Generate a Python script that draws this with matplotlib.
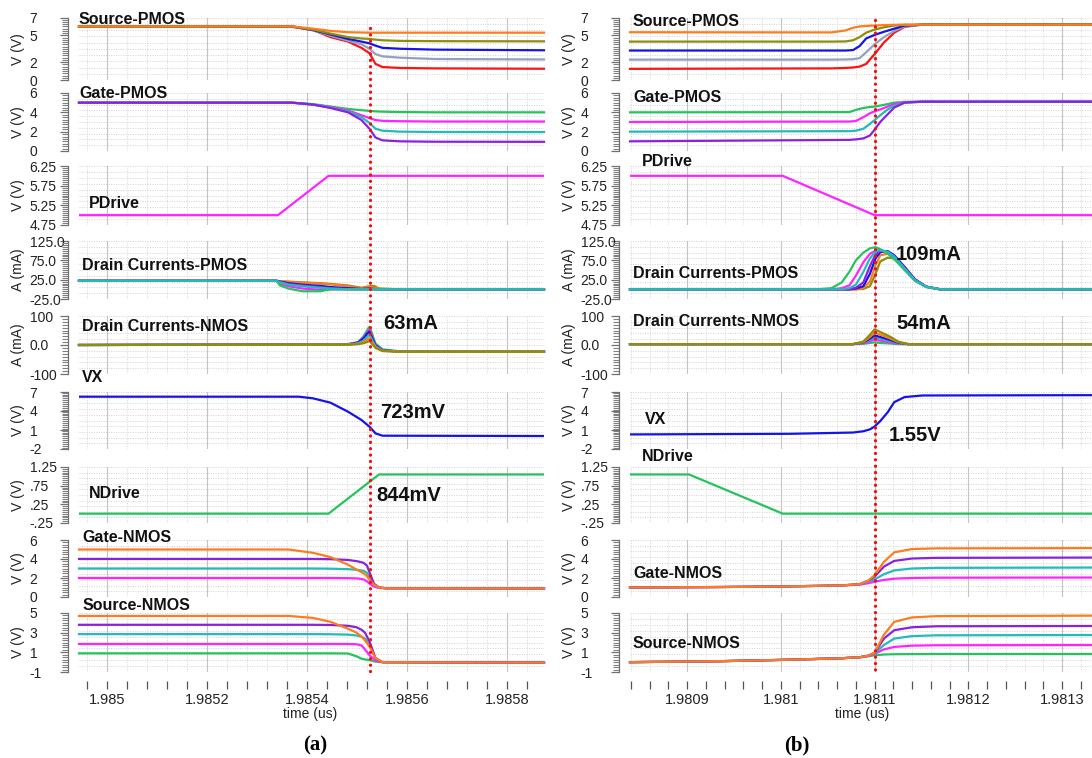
import matplotlib
matplotlib.use('Agg')
import matplotlib.pyplot as plt
import numpy as np
from matplotlib.lines import Line2D
from matplotlib.ticker import FixedLocator, MultipleLocator
from matplotlib.transforms import blended_transform_factory

plt.rcParams['font.family'] = ['Liberation Sans', 'DejaVu Sans']

# ---------------- data: left column (a) ----------------
tL_xlim = (1.984944, 1.985874)
tL_ticks = [1.985, 1.9852, 1.9854, 1.9856, 1.9858]
tL_labels = ['1.985', '1.9852', '1.9854', '1.9856', '1.9858']
tL_marker = 1.985525

tL_a = [1.984944, 1.985370, 1.985412, 1.985447, 1.985482, 1.985509, 1.985525,
        1.985537, 1.985551, 1.985586, 1.985656, 1.985874]
L_src_p = {
    'red':    [6.0, 5.95, 5.6, 4.8, 4.3, 3.6, 3.0, 1.8, 1.45, 1.35, 1.3, 1.26],
    'gray':   [6.0, 6.0, 5.55, 4.95, 4.4, 4.0, 3.5, 2.9, 2.65, 2.5, 2.35, 2.3],
    'blue':   [6.0, 6.0, 5.6, 5.1, 4.6, 4.3, 4.1, 3.85, 3.6, 3.5, 3.4, 3.33],
    'olive':  [6.0, 6.0, 5.65, 5.2, 4.8, 4.65, 4.6, 4.52, 4.45, 4.38, 4.35, 4.33],
    'orange': [6.0, 6.0, 5.75, 5.5, 5.35, 5.32, 5.3, 5.3, 5.3, 5.3, 5.3, 5.3],
}
L_gate_p = {
    'green':   [5.0, 5.0, 4.85, 4.6, 4.35, 4.22, 4.15, 4.1, 4.07, 4.03, 4.0, 4.0],
    'magenta': [5.0, 5.0, 4.8, 4.55, 4.2, 3.7, 3.4, 3.2, 3.12, 3.08, 3.05, 3.05],
    'cyan':    [5.0, 5.0, 4.8, 4.5, 4.1, 3.5, 2.9, 2.3, 2.1, 2.0, 1.97, 1.96],
    'purple':  [5.0, 5.0, 4.8, 4.45, 4.0, 3.2, 2.3, 1.4, 1.1, 1.0, 0.96, 0.95],
}
tL_pdrive = [1.984944, 1.985342, 1.985443, 1.985874]
L_pdrive = [5.0, 5.0, 6.0, 6.0]

tL_ip = [1.984944, 1.985339, 1.985346, 1.985363, 1.985391, 1.985426, 1.985447,
         1.985482, 1.985509, 1.985525, 1.985534, 1.985544, 1.985586, 1.985874]
L_id_p = {
    'olive':   [22, 22, 21, 20, 18, 16, 14, 10, 4, 8, 9, 2, 0, 0],
    'orange':  [22, 22, 21, 19, 17, 15, 13, 8, 3, 6, 5, 1, 0, 0],
    'blue':    [22, 22, 20, 16, 12, 9, 6, 3, 1, 2, 1, 0, 0, 0],
    'purple':  [22, 22, 19, 14, 10, 6, 3, 1, 0, 1, 0, 0, 0, 0],
    'magenta': [22, 22, 14, 8, 2, -1, 0, 0, 0, 0, 0, 0, 0, 0],
    'green':   [22, 22, 10, 2, -5, -5, 0, 0, 0, 0, 0, 0, 0, 0],
    'cyan':    [22, 22, 18, 12, 8, 4, 2, 0, 0, 0, 0, 0, 0, 0],
}
tL_in = [1.984944, 1.985482, 1.985502, 1.985513, 1.985520, 1.985525, 1.985530,
         1.985537, 1.985551, 1.985586, 1.985874]
L_id_n = {
    'green':   [0, 3, 10, 30, 50, 63, 40, 5, -15, -22, -23],
    'magenta': [0, 3, 9, 25, 42, 52, 30, 0, -18, -23, -23],
    'blue':    [0, 2, 8, 22, 38, 46, 25, -2, -18, -23, -23],
    'cyan':    [0, 2, 6, 15, 28, 36, 18, -5, -19, -23, -23],
    'orange':  [0, 1, 4, 10, 18, 24, 10, -8, -20, -23, -23],
    'olive':   [0, 1, 3, 6, 10, 14, 4, -10, -21, -23, -23],
}
tL_vx = [1.984944, 1.985384, 1.985412, 1.985447, 1.985482, 1.985509, 1.985525,
         1.985537, 1.985551, 1.985874]
L_vx = [6.26, 6.26, 6.0, 5.31, 3.89, 2.58, 1.52, 0.47, 0.10, 0.05]
tL_ndrive = [1.984944, 1.985443, 1.985544, 1.985874]
L_ndrive = [0.0, 0.0, 1.05, 1.05]

tL_gn = [1.984944, 1.985363, 1.985412, 1.985447, 1.985482, 1.985502, 1.985513,
         1.985520, 1.985525, 1.985534, 1.985544, 1.985558, 1.985874]
L_gate_n = {
    'magenta': [2.0, 2.0, 2.0, 2.0, 1.98, 1.95, 1.85, 1.65, 1.4, 1.1, 0.95, 0.92, 0.9],
    'cyan':    [3.0, 3.0, 3.0, 2.98, 2.93, 2.85, 2.75, 2.55, 2.1, 1.3, 1.0, 0.92, 0.9],
    'purple':  [4.0, 4.0, 4.0, 3.98, 3.9, 3.75, 3.6, 3.3, 2.6, 1.4, 1.0, 0.92, 0.9],
    'orange':  [5.0, 5.0, 4.65, 4.2, 3.4, 2.8, 2.5, 2.2, 1.8, 1.3, 1.0, 0.92, 0.9],
}
tL_sn = [1.984944, 1.985363, 1.985412, 1.985447, 1.985482, 1.985499, 1.985509,
         1.985516, 1.985525, 1.985537, 1.985551, 1.985874]
L_src_n = {
    'green':   [0.9, 0.9, 0.9, 0.9, 0.88, 0.6, 0.35, 0.28, 0.2, 0.05, 0.0, -0.05],
    'magenta': [1.85, 1.85, 1.85, 1.85, 1.85, 1.82, 1.7, 1.3, 0.7, 0.15, 0.0, -0.05],
    'cyan':    [2.85, 2.85, 2.85, 2.84, 2.8, 2.72, 2.6, 2.4, 1.8, 0.35, 0.0, -0.05],
    'purple':  [3.8, 3.8, 3.8, 3.78, 3.7, 3.55, 3.3, 3.0, 2.1, 0.4, 0.0, -0.05],
    'orange':  [4.7, 4.7, 4.5, 4.1, 3.4, 3.0, 2.6, 2.2, 1.6, 0.4, 0.0, -0.05],
}

# ---------------- data: right column (b) ----------------
tR_xlim = (1.980839, 1.981332)
tR_ticks = [1.9809, 1.981, 1.9811, 1.9812, 1.9813]
tR_labels = ['1.9809', '1.981', '1.9811', '1.9812', '1.9813']
tR_marker = 1.9811

tR_a = [1.980839, 1.981054, 1.981069, 1.981077, 1.981084, 1.981091, 1.981100,
        1.981110, 1.981121, 1.981132, 1.981151, 1.981332]
R_src_p = {
    'red':    [1.25, 1.3, 1.35, 1.4, 1.5, 1.8, 2.9, 4.2, 5.3, 5.95, 6.2, 6.2],
    'gray':   [2.28, 2.28, 2.3, 2.33, 2.45, 3.1, 4.0, 4.8, 5.5, 6.0, 6.2, 6.2],
    'blue':   [3.3, 3.3, 3.3, 3.35, 3.8, 4.65, 5.05, 5.4, 5.75, 6.1, 6.2, 6.2],
    'olive':  [4.3, 4.3, 4.32, 4.45, 4.8, 5.3, 5.65, 5.9, 6.1, 6.18, 6.2, 6.2],
    'orange': [5.35, 5.33, 5.55, 5.85, 6.0, 6.05, 6.1, 6.15, 6.18, 6.2, 6.2, 6.2],
}
tR_b = [1.980839, 1.981073, 1.981080, 1.981088, 1.981095, 1.981100, 1.981106,
        1.981114, 1.981121, 1.981132, 1.981151, 1.981332]
R_gate_p = {
    'green':   [4.0, 4.02, 4.25, 4.45, 4.55, 4.6, 4.7, 4.85, 5.0, 5.08, 5.1, 5.1],
    'magenta': [3.0, 3.05, 3.1, 3.5, 3.9, 4.1, 4.3, 4.6, 4.85, 5.05, 5.1, 5.1],
    'cyan':    [2.0, 2.05, 2.1, 2.3, 2.8, 3.2, 3.7, 4.3, 4.7, 5.0, 5.1, 5.1],
    'purple':  [1.0, 1.15, 1.2, 1.3, 1.6, 2.2, 3.0, 3.8, 4.5, 5.0, 5.1, 5.1],
}
tR_pdrive = [1.980839, 1.981002, 1.981100, 1.981332]
R_pdrive = [6.0, 6.0, 5.0, 5.0]

tR_ip = [1.980839, 1.981039, 1.981054, 1.981065, 1.981073, 1.981080, 1.981088,
         1.981095, 1.981101, 1.981106, 1.981114, 1.981121, 1.981132, 1.981143,
         1.981155, 1.981170, 1.981332]
R_id_p = {
    'olive':   [0, 0, 0, 0, 0, 0, 1, 8, 40, 72, 82, 80, 56, 25, 7, 0, 0],
    'orange':  [0, 0, 0, 0, 0, 0, 3, 20, 62, 88, 92, 86, 58, 26, 7, 0, 0],
    'blue':    [0, 0, 0, 0, 0, 2, 8, 40, 80, 96, 99, 88, 58, 26, 7, 0, 0],
    'purple':  [0, 0, 0, 0, 0, 4, 18, 60, 90, 99, 97, 86, 56, 25, 7, 0, 0],
    'magenta': [0, 0, 0, 3, 10, 35, 70, 92, 100, 101, 95, 82, 52, 23, 6, 0, 0],
    'green':   [0, 0, 3, 18, 45, 75, 95, 106, 109, 104, 92, 78, 50, 22, 6, 0, 0],
    'cyan':    [0, 0, 0, 0, 3, 12, 45, 80, 98, 102, 97, 84, 54, 24, 7, 0, 0],
}
tR_in = [1.980839, 1.981077, 1.981088, 1.981095, 1.981100, 1.981106, 1.981117,
         1.981125, 1.981136, 1.981332]
R_id_n = {
    'green':   [3, 3, 4, 7, 9, 7, 5, 3, 3, 3],
    'magenta': [3, 3, 6, 13, 18, 15, 9, 5, 3, 3],
    'cyan':    [3, 3, 8, 18, 27, 22, 13, 6, 3, 3],
    'blue':    [3, 3, 9, 22, 33, 28, 17, 8, 3, 3],
    'orange':  [3, 3, 10, 28, 42, 36, 22, 10, 3, 3],
    'olive':   [3, 3, 12, 35, 54, 45, 28, 12, 3, 3],
}
tR_vx = [1.980839, 1.981010, 1.981077, 1.981088, 1.981095, 1.981100, 1.981106,
         1.981114, 1.981121, 1.981132, 1.981151, 1.981332]
R_vx = [0.3, 0.4, 0.6, 0.8, 1.1, 1.55, 2.4, 3.8, 5.4, 6.2, 6.45, 6.5]
tR_ndrive = [1.980839, 1.980902, 1.981002, 1.981332]
R_ndrive = [1.05, 1.05, 0.0, 0.0]

tR_n = [1.980839, 1.980935, 1.981010, 1.981065, 1.981084, 1.981093, 1.981100,
        1.981110, 1.981121, 1.981140, 1.981166, 1.981332]
R_gate_n = {
    'magenta': [1.0, 1.05, 1.12, 1.22, 1.3, 1.45, 1.6, 1.8, 1.93, 2.0, 2.03, 2.05],
    'cyan':    [1.0, 1.05, 1.12, 1.22, 1.35, 1.6, 1.85, 2.4, 2.8, 3.0, 3.07, 3.1],
    'purple':  [1.0, 1.05, 1.12, 1.22, 1.35, 1.7, 2.15, 3.2, 3.8, 4.05, 4.12, 4.15],
    'orange':  [1.0, 1.05, 1.12, 1.22, 1.35, 1.7, 2.3, 3.7, 4.7, 5.05, 5.12, 5.15],
}
R_src_n = {
    'green':   [0.0, 0.1, 0.25, 0.4, 0.5, 0.6, 0.7, 0.78, 0.81, 0.82, 0.83, 0.83],
    'magenta': [0.0, 0.1, 0.25, 0.4, 0.5, 0.62, 0.85, 1.3, 1.55, 1.68, 1.72, 1.74],
    'cyan':    [0.0, 0.1, 0.25, 0.4, 0.5, 0.65, 0.9, 1.75, 2.4, 2.65, 2.73, 2.76],
    'purple':  [0.0, 0.1, 0.25, 0.4, 0.5, 0.65, 0.95, 2.4, 3.25, 3.55, 3.65, 3.68],
    'orange':  [0.0, 0.1, 0.25, 0.4, 0.5, 0.65, 0.95, 2.8, 4.1, 4.55, 4.68, 4.73],
}

# panel y-axes: limits, tick values, tick labels, unit
ylims = [(0, 7), (0, 6), (4.75, 6.25), (-25, 125), (-100, 100), (-2, 7),
         (-0.25, 1.25), (0, 6), (-1, 5)]
yticks = [[0, 2, 5, 7], [0, 2, 4, 6], [4.75, 5.25, 5.75, 6.25], [-25, 25, 75, 125],
          [-100, 0, 100], [-2, 1, 4, 7], [-0.25, 0.25, 0.75, 1.25], [0, 2, 4, 6],
          [-1, 1, 3, 5]]
ytick_labels = [['0', '2', '5', '7'], ['0', '2', '4', '6'],
                ['4.75', '5.25', '5.75', '6.25'], ['-25.0', '25.0', '75.0', '125.0'],
                ['-100', '0.0', '100'], ['-2', '1', '4', '7'],
                ['-.25', '.25', '.75', '1.25'], ['0', '2', '4', '6'],
                ['-1', '1', '3', '5']]
units = ['V (V)', 'V (V)', 'V (V)', 'A (mA)', 'A (mA)', 'V (V)', 'V (V)', 'V (V)', 'V (V)']
titles = ['Source-PMOS', 'Gate-PMOS', 'PDrive', 'Drain Currents-PMOS',
          'Drain Currents-NMOS', 'VX', 'NDrive', 'Gate-NMOS', 'Source-NMOS']

# ---------------- layout / style ----------------
W, H = 1092, 758
rows_px = [(17.5, 80), (93, 151), (166, 225), (241, 299), (316, 374),
           (392, 449), (467, 523), (540, 597), (613, 672)]
minor_steps = [0.25, 0.25, 0.05, 5, 10, 0.3, 0.05, 0.25, 0.25]
COL = {'orange': '#ff7c1c', 'olive': '#8e8e08', 'blue': '#1414e8', 'gray': '#93a0bf',
       'red': '#ff1212', 'green': '#24c45c', 'magenta': '#ff24ff', 'cyan': '#22baba',
       'purple': '#8a20e0'}
LW = 1.6

fig = plt.figure(figsize=(W / 100, H / 100), dpi=100)


def fx(px):
    return px / W


def fy(px):
    return 1 - px / H


def make_column(x0, x1, xlim, tticks, tlabels, tminor, title_pos, series):
    axes = []
    for i, (top, bot) in enumerate(rows_px):
        ax = fig.add_axes([fx(x0), fy(bot), fx(x1 - x0), (bot - top) / H])
        ax.set_xlim(*xlim)
        ax.set_ylim(*ylims[i])
        for s in ['top', 'right', 'bottom']:
            ax.spines[s].set_visible(False)
        ax.spines['left'].set_position(('outward', 8))
        ax.spines['left'].set_color('#707070')
        ax.spines['left'].set_linewidth(0.9)
        ax.xaxis.set_major_locator(FixedLocator(tticks))
        ax.xaxis.set_minor_locator(MultipleLocator(tminor))
        ax.tick_params(axis='x', which='both', length=0, labelbottom=False)
        ax.grid(which='major', axis='x', color='#c4c4c4', lw=0.8, ls='-')
        ax.grid(which='minor', axis='x', color='#d6d6d6', lw=0.7, ls=(0, (1, 1.5)))
        lo, hi = ylims[i]
        for yv in np.linspace(lo, hi, 11)[1:]:
            ax.axhline(yv, color='#d2d2d2', lw=0.7, ls=(0, (1, 1.5)), zorder=0)
        ax.yaxis.set_major_locator(FixedLocator(yticks[i]))
        ax.set_yticklabels(ytick_labels[i])
        ax.yaxis.set_minor_locator(MultipleLocator(minor_steps[i]))
        ax.tick_params(axis='y', which='major', length=6, width=0.9, color='#707070',
                       direction='out', labelsize=10, pad=21.5, labelcolor='#222222')
        ax.tick_params(axis='y', which='minor', length=4.5, width=0.8, color='#808080',
                       direction='out')
        for lab in ax.get_yticklabels():
            lab.set_horizontalalignment('left')
        fig.text(fx(x0 - 61), fy((top + bot) / 2), units[i], rotation=90,
                 ha='center', va='center', fontsize=10, color='#222222')
        tx, ty = title_pos[i]
        fig.text(fx(tx), fy(ty), titles[i], fontsize=11.5, fontweight='bold',
                 ha='left', va='center', color='#111111')
        t, ys = series[i]
        if isinstance(ys, dict):
            for cname, vals in ys.items():
                ax.plot(t, vals, color=COL[cname], lw=LW, solid_joinstyle='round',
                        zorder=3, clip_on=False)
        else:
            cname, vals = ys
            ax.plot(t, vals, color=COL[cname], lw=LW, zorder=3)
        axes.append(ax)

    # time axis ruler
    axt = fig.add_axes([fx(x0), fy(681), fx(x1 - x0), 1 / H])
    axt.set_xlim(*xlim)
    for s in axt.spines.values():
        s.set_visible(False)
    axt.set_yticks([])
    axt.xaxis.set_major_locator(FixedLocator(tticks))
    axt.set_xticklabels(tlabels)
    axt.xaxis.set_minor_locator(MultipleLocator(tminor))
    axt.tick_params(axis='x', which='both', length=5.5, width=0.9, color='#555555',
                    direction='out', labelsize=10.5, pad=3, labelcolor='#222222')
    return axes, axt


title_L = [(79, 19), (79, 93), (89, 204), (82, 265), (82, 327), (82, 378),
           (89, 493), (82, 538), (83, 606)]
title_R = [(633, 21), (633, 97), (642, 162), (633, 273), (633, 322), (645, 419),
           (642, 456), (633, 573), (633, 643)]

series_L = [(tL_a, L_src_p), (tL_a, L_gate_p), (tL_pdrive, ('magenta', L_pdrive)),
            (tL_ip, L_id_p), (tL_in, L_id_n), (tL_vx, ('blue', L_vx)),
            (tL_ndrive, ('green', L_ndrive)), (tL_gn, L_gate_n), (tL_sn, L_src_n)]
series_R = [(tR_a, R_src_p), (tR_b, R_gate_p), (tR_pdrive, ('magenta', R_pdrive)),
            (tR_ip, R_id_p), (tR_in, R_id_n), (tR_vx, ('blue', R_vx)),
            (tR_ndrive, ('green', R_ndrive)), (tR_n, R_gate_n), (tR_n, R_src_n)]

axL, axtL = make_column(79, 544, tL_xlim, tL_ticks, tL_labels, 0.00004, title_L, series_L)
axR, axtR = make_column(630, 1092, tR_xlim, tR_ticks, tR_labels, 0.00002, title_R, series_R)

# red dotted marker lines spanning all panels
for ax, tm, ytop in [(axL[-1], tL_marker, 28), (axR[-1], tR_marker, 20)]:
    tr = blended_transform_factory(ax.transData, fig.transFigure)
    fig.add_artist(Line2D([tm, tm], [fy(ytop), fy(675)], transform=tr,
                          color='#ee1111', lw=2.4, ls=(0, (0.01, 1.9)),
                          dash_capstyle='round', zorder=10))

# annotations
for txt, x, y in [('63mA', 383, 323), ('723mV', 380, 413), ('844mV', 376, 495),
                  ('109mA', 896, 255), ('54mA', 896, 323), ('1.55V', 889, 435)]:
    fig.text(fx(x), fy(y), txt, fontsize=14.5, fontweight='bold', ha='left',
             va='center', color='#111111')

fig.text(fx(310), fy(714), 'time (us)', fontsize=10, ha='center', va='center',
         color='#222222')
fig.text(fx(862), fy(714), 'time (us)', fontsize=10, ha='center', va='center',
         color='#222222')
fig.text(fx(315), fy(745), '(a)', fontsize=15, fontweight='bold', ha='center',
         va='center', family=['Liberation Serif', 'DejaVu Serif'])
fig.text(fx(797), fy(745), '(b)', fontsize=15, fontweight='bold', ha='center',
         va='center', family=['Liberation Serif', 'DejaVu Serif'])

fig.savefig('out.png', dpi=100)
